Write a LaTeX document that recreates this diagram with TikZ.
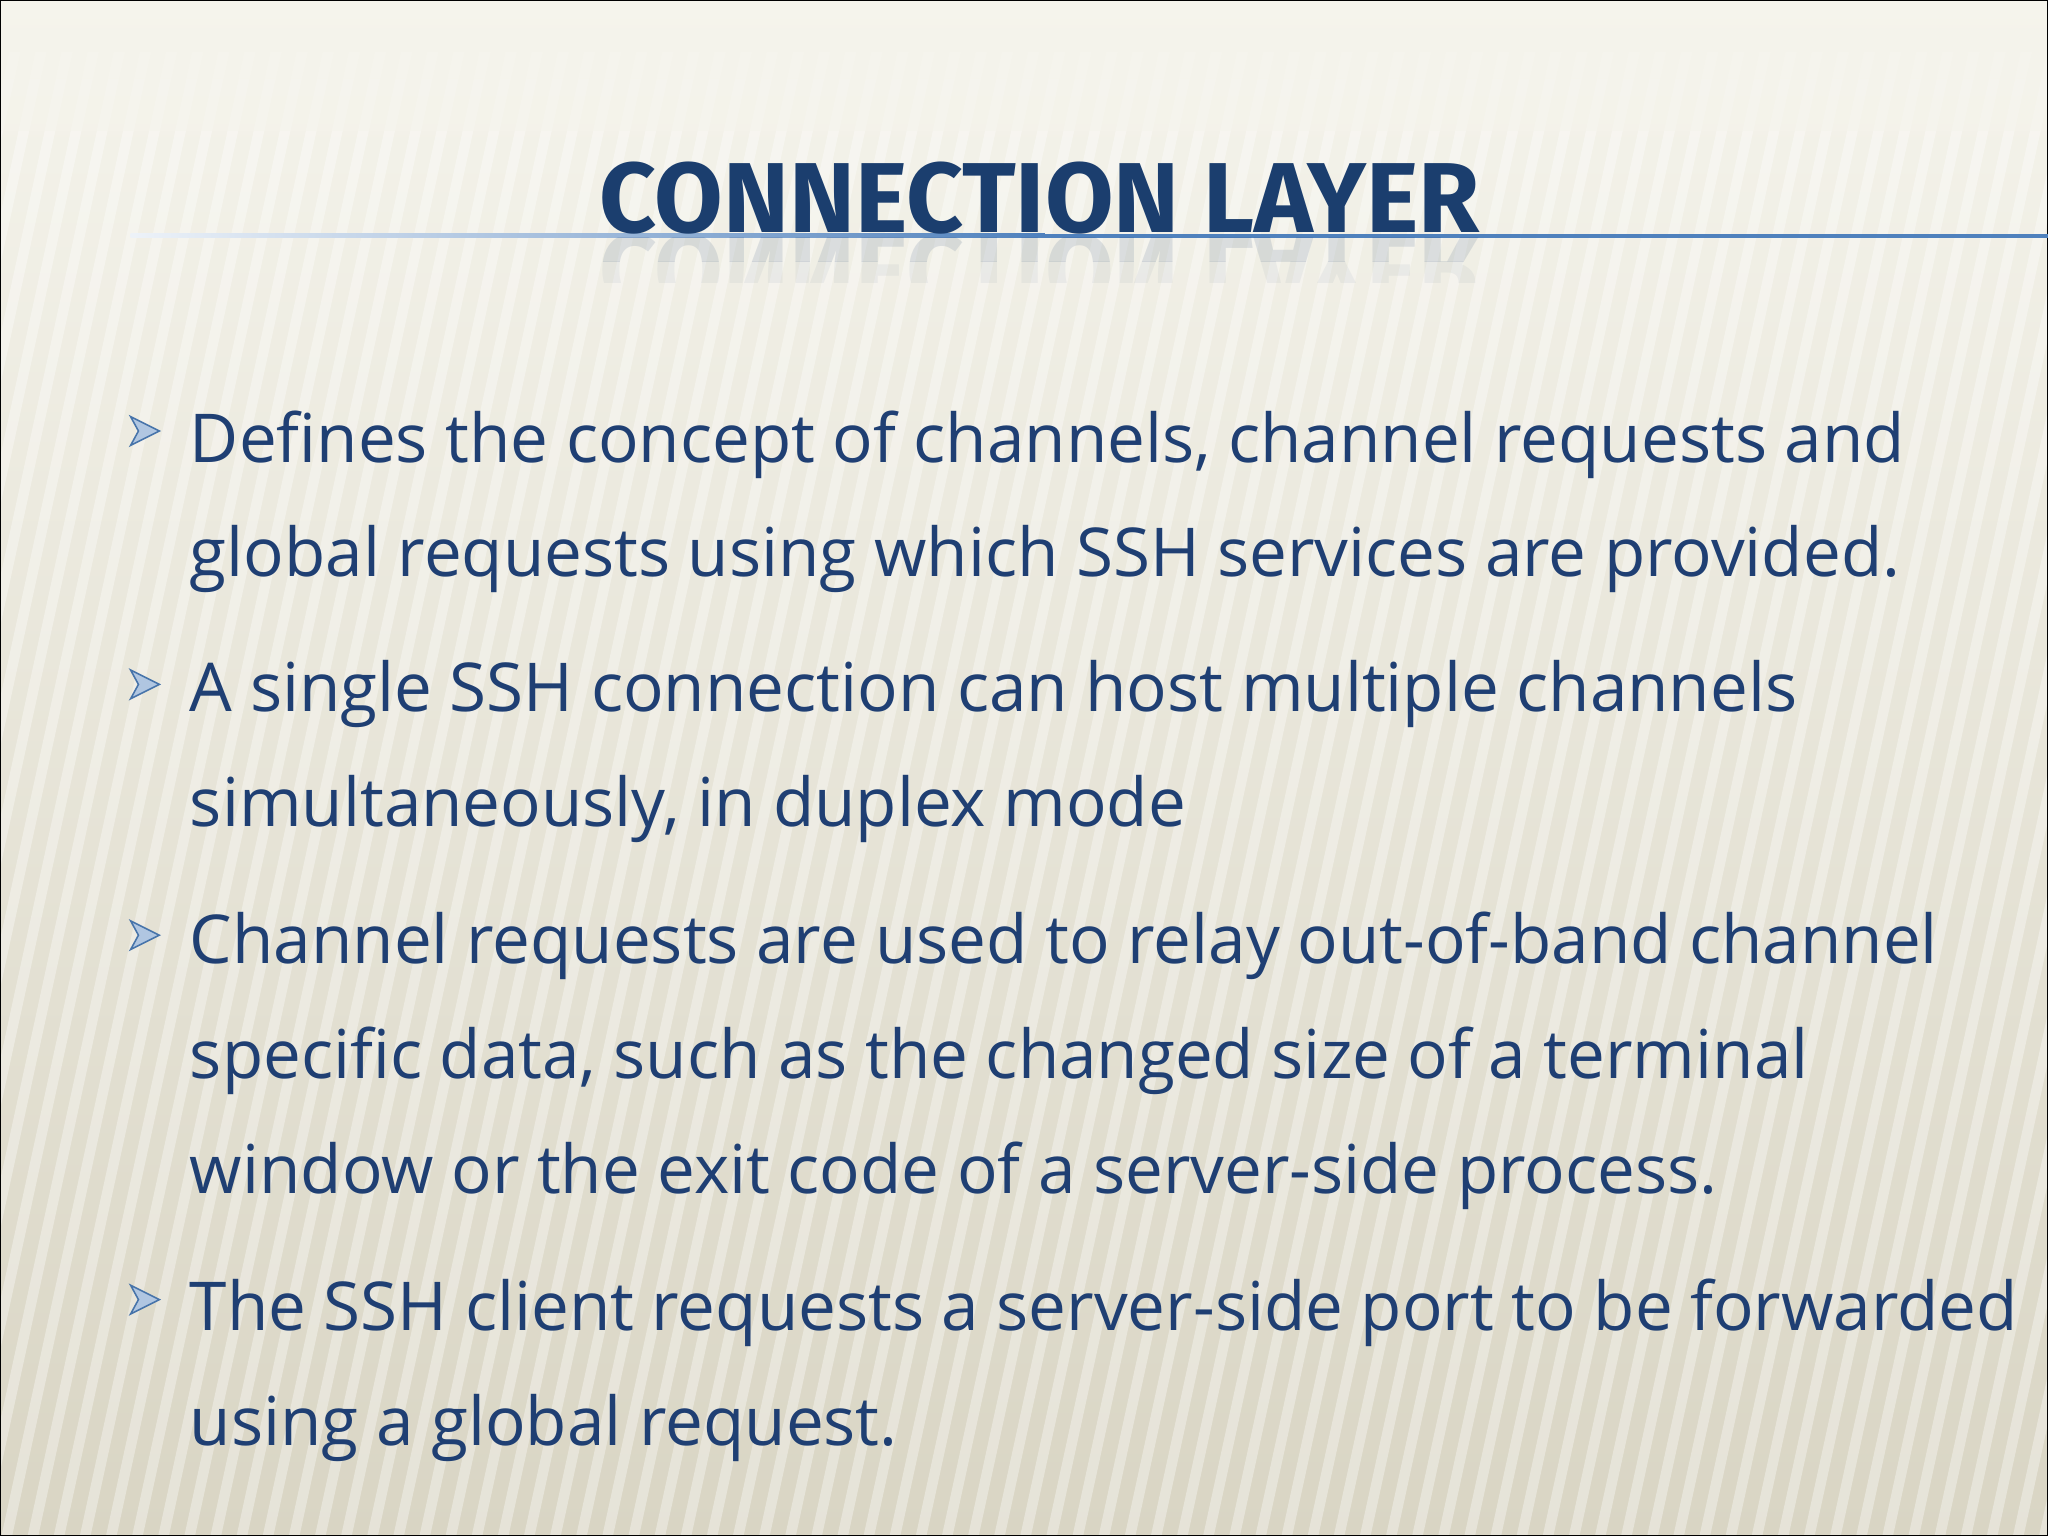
\documentclass[tikz,border=0pt]{standalone}
\usepackage{fontspec}
\setmainfont{Open Sans}
\newfontfamily\titlefont{Fira Sans}
\definecolor{txt}{HTML}{1F3F73}
\definecolor{ttl}{HTML}{1B3E6E}
\definecolor{rule}{HTML}{4F81BD}
\definecolor{bgtop}{HTML}{F5F4EC}
\definecolor{bgbot}{HTML}{D9D5C4}
\newcommand{\ttltext}{\resizebox{337pt}{!}{\titlefont\bfseries CONNECTION LAYER}}
\begin{document}
\begin{tikzpicture}[x=0.5pt,y=-0.5pt,
  line/.style={anchor=base west,inner sep=0,text=txt,font=\fontsize{25.8}{28}\selectfont},
  bul/.style={fill=rule!45,draw=rule!90!black,line width=0.6pt,line join=miter}]
\useasboundingbox (0,0) rectangle (1568,1176);
\shade[top color=bgtop,bottom color=bgbot] (0,0) rectangle (1568,1176);
\begin{scope}
\clip (0,40) rectangle (1568,1176);
\foreach \i in {-20,...,90}{
  \draw[white,opacity=0.35,line width=4pt] (\i*20,1200) -- (\i*20+260,0);
}
\end{scope}
\shade[top color=bgtop,bottom color=bgtop,opacity=0.8] (0,0) rectangle (1568,60);
\fill[bgtop,opacity=0.5] (0,60) rectangle (1568,100);
\draw[black,line width=1pt] (0,0) rectangle (1568,1176);
% title
\shade[left color=rule!10,right color=rule] (100,179) rectangle (800,182);
\fill[rule] (800,179) rectangle (1568,182);
\node[anchor=base,inner sep=0,text=ttl] (title) at (796,178) {\ttltext};
\begin{scope}
\clip (0,182) rectangle (1568,200);
\node[anchor=base,inner sep=0,text=ttl,opacity=0.12,transform shape,yscale=-1] (refl) at (796,180) {\ttltext};
\end{scope}
\begin{scope}
\clip (0,200) rectangle (1568,216);
\node[anchor=base,inner sep=0,text=ttl,opacity=0.05,transform shape,yscale=-1] (refl2) at (796,180) {\ttltext};
\end{scope}
% bullets
\foreach \y [count=\k] in {330,524,716,995}{
  \draw[bul] (100,\y-11) -- (122,\y) -- (100,\y+11) -- (106,\y) -- cycle;
}
\node[line] (l1) at (145,354) {Defines the concept of channels, channel requests and};
\node[line] (l2) at (145,441) {global requests using which SSH services are provided.};
\node[line] (l3) at (145,545) {A single SSH connection can host multiple channels};
\node[line] (l4) at (145,633) {simultaneously, in duplex mode};
\node[line] (l5) at (145,738) {Channel requests are used to relay out-of-band channel};
\node[line] (l6) at (145,826) {specific data, such as the changed size of a terminal};
\node[line] (l7) at (145,914) {window or the exit code of a server-side process.};
\node[line] (l8) at (145,1019) {The SSH client requests a server-side port to be forwarded};
\node[line] (l9) at (145,1107) {using a global request.};
\end{tikzpicture}
\end{document}
